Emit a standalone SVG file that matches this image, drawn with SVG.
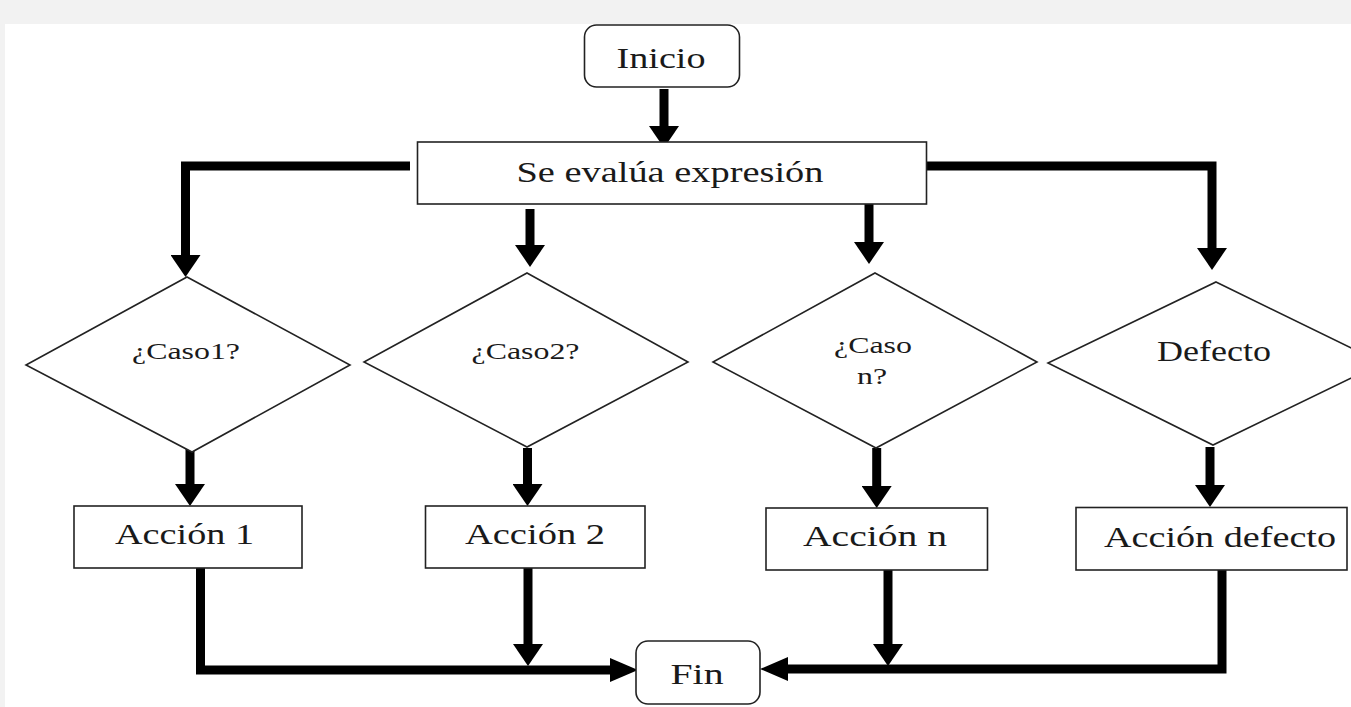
<svg xmlns="http://www.w3.org/2000/svg" width="1351" height="707" viewBox="0 0 1351 707">
  <style>
    .shape { fill: #ffffff; stroke: #222222; stroke-width: 1.6; }
    .conn { fill: none; stroke: #000000; stroke-width: 9; stroke-linejoin: miter; stroke-linecap: butt; }
    .txt { font-family: "Liberation Serif", "Times New Roman", serif; fill: #1a1a1a; text-anchor: middle; }
    .big { font-size: 29px; }
    .small { font-size: 24px; }
  </style>
  <defs>
    <marker id="ahv" markerUnits="userSpaceOnUse" viewBox="0 0 22 30" markerWidth="22" markerHeight="30" refX="0" refY="15" orient="auto">
      <path d="M0,0 L22,15 L0,30 Z" fill="#000000"/>
    </marker>
    <marker id="ahh" markerUnits="userSpaceOnUse" viewBox="0 0 28 24" markerWidth="28" markerHeight="24" refX="0" refY="12" orient="auto">
      <path d="M0,0 L28,12 L0,24 Z" fill="#000000"/>
    </marker>
  </defs>

  <rect x="0" y="0" width="1351" height="707" fill="#f2f2f2"/>
  <rect x="5" y="24" width="1346" height="683" fill="#ffffff"/>

  <g id="connectors">
    <path class="conn" d="M664,89 V126" marker-end="url(#ahv)"/>
    <path class="conn" d="M410,166 H185.5 V255" marker-end="url(#ahv)"/>
    <path class="conn" d="M530,209 V245" marker-end="url(#ahv)"/>
    <path class="conn" d="M869,204 V242" marker-end="url(#ahv)"/>
    <path class="conn" d="M922,166 H1212 V248" marker-end="url(#ahv)"/>
    <path class="conn" d="M190,448 V484" marker-end="url(#ahv)"/>
    <path class="conn" d="M527.5,448 V484" marker-end="url(#ahv)"/>
    <path class="conn" d="M876.7,448 V486" marker-end="url(#ahv)"/>
    <path class="conn" d="M1210,447 V485" marker-end="url(#ahv)"/>
    <path class="conn" d="M200.5,568 V670 H610" marker-end="url(#ahh)"/>
    <path class="conn" d="M528,568 V644" marker-end="url(#ahv)"/>
    <path class="conn" d="M888,570 V644" marker-end="url(#ahv)"/>
    <path class="conn" d="M1222,570 V669 H788" marker-end="url(#ahh)"/>
  </g>

  <g id="inicio">
    <rect class="shape" x="584.5" y="25" width="155" height="62" rx="12"/>
    <text class="txt big" x="661" y="68" textLength="89" lengthAdjust="spacingAndGlyphs">Inicio</text>
  </g>

  <g id="evalua">
    <rect class="shape" x="417.5" y="142" width="509" height="62"/>
    <text class="txt big" x="670" y="182" textLength="307" lengthAdjust="spacingAndGlyphs">Se evalúa expresión</text>
  </g>

  <g id="caso1">
    <polygon class="shape" points="187,277 350,365 192,452 26,365"/>
    <text class="txt small" x="186" y="359" textLength="108" lengthAdjust="spacingAndGlyphs">¿Caso1?</text>
  </g>

  <g id="caso2">
    <polygon class="shape" points="527,273 688,362 527,447 364,362"/>
    <text class="txt small" x="525.5" y="358.5" textLength="108" lengthAdjust="spacingAndGlyphs">¿Caso2?</text>
  </g>

  <g id="cason">
    <polygon class="shape" points="875,273 1037,362 876,448 713,362"/>
    <text class="txt small" x="873" y="353" textLength="78" lengthAdjust="spacingAndGlyphs">¿Caso</text>
    <text class="txt small" x="872" y="383.5" textLength="30" lengthAdjust="spacingAndGlyphs">n?</text>
  </g>

  <g id="defecto">
    <polygon class="shape" points="1216,282 1382,363 1213,445 1048,363"/>
    <text class="txt big" x="1214" y="361" textLength="114" lengthAdjust="spacingAndGlyphs">Defecto</text>
  </g>

  <g id="accion1">
    <rect class="shape" x="74" y="506" width="228" height="62"/>
    <text class="txt big" x="184.5" y="544" textLength="139" lengthAdjust="spacingAndGlyphs">Acción 1</text>
  </g>

  <g id="accion2">
    <rect class="shape" x="425.5" y="506" width="219.5" height="62"/>
    <text class="txt big" x="535" y="543.5" textLength="140" lengthAdjust="spacingAndGlyphs">Acción 2</text>
  </g>

  <g id="accionn">
    <rect class="shape" x="766" y="508" width="221.5" height="62"/>
    <text class="txt big" x="875" y="546" textLength="144" lengthAdjust="spacingAndGlyphs">Acción n</text>
  </g>

  <g id="acciondefecto">
    <rect class="shape" x="1076" y="507.5" width="271" height="62.5"/>
    <text class="txt big" x="1220" y="547.3" textLength="232" lengthAdjust="spacingAndGlyphs">Acción defecto</text>
  </g>

  <g id="fin">
    <rect class="shape" x="636" y="641" width="124" height="63" rx="12"/>
    <text class="txt big" x="697" y="684" textLength="53" lengthAdjust="spacingAndGlyphs">Fin</text>
  </g>
</svg>
